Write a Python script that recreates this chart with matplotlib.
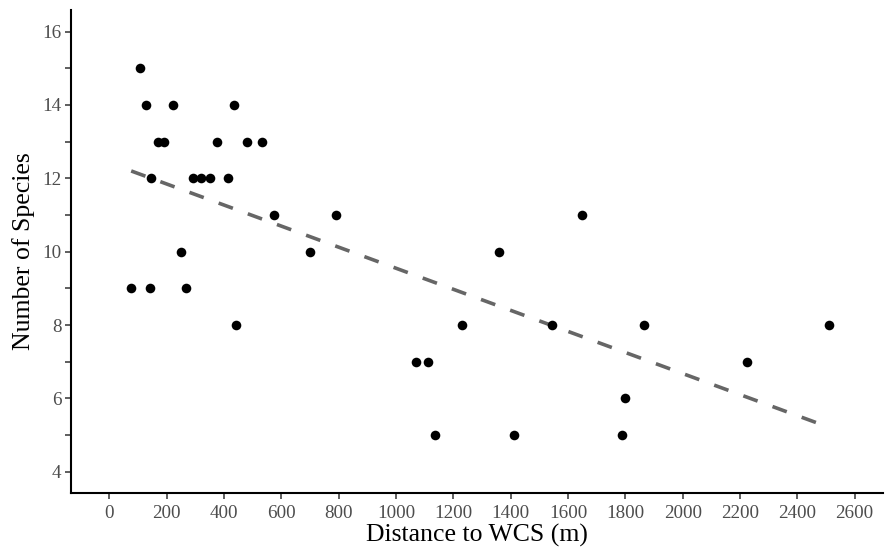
import numpy as np
import matplotlib
matplotlib.use("Agg")
import matplotlib.pyplot as plt

# distance to WCS (m) and number of species
distance = [76, 107, 127, 140, 144, 171, 191, 223, 250, 266, 293, 320, 351,
            375, 413, 436, 441, 480, 534, 575, 700, 791, 1070, 1113, 1136,
            1231, 1359, 1411, 1543, 1650, 1790, 1798, 1864, 2226, 2509]
species = [9, 15, 14, 9, 12, 13, 13, 14, 10, 9, 12, 12, 12,
           13, 12, 14, 8, 13, 13, 11, 10, 11, 7, 7, 5,
           8, 10, 5, 8, 11, 5, 6, 8, 7, 8]

x_ticks = np.arange(0, 2601, 200)
y_ticks = np.arange(4, 17, 1)
y_labels = [str(v) if v % 2 == 0 else "" for v in y_ticks]

plt.rcParams["font.family"] = ["Liberation Serif", "DejaVu Serif"]

fig = plt.figure(figsize=(8.86, 5.52), dpi=100)
ax = fig.add_axes([71 / 886, 59 / 552, 812 / 886, 483 / 552])

pts_x = np.array(distance)
pts_y = np.array(species)

ax.scatter(pts_x, pts_y, s=48, color="black", zorder=3, linewidths=0)

# linear fit, drawn dashed like geom_smooth(method = "lm", se = FALSE)
slope, intercept = np.polyfit(pts_x, pts_y, 1)
fit_x = np.array([pts_x.min(), pts_x.max()])
ax.plot(fit_x, intercept + slope * fit_x, color="#666666", lw=2.6,
        dashes=(4.2, 4.4), zorder=2)

ax.set_xlim(-134, 2699)
ax.set_ylim(3.42, 16.59)
ax.set_xticks(x_ticks)
ax.set_yticks(y_ticks)
ax.set_yticklabels(y_labels)

for side in ["top", "right"]:
    ax.spines[side].set_visible(False)
for side in ["left", "bottom"]:
    ax.spines[side].set_linewidth(1.5)
    ax.spines[side].set_color("black")

ax.tick_params(axis="both", length=4, width=1.1, color="#333333",
               labelcolor="#4D4D4D", labelsize=13.7)
ax.tick_params(axis="x", pad=5)
ax.tick_params(axis="y", pad=3)

ax.set_xlabel("Distance to WCS (m)", fontsize=18.5, color="black", labelpad=1)
ax.set_ylabel("Number of Species", fontsize=18.5, color="black", labelpad=5)

fig.savefig("out.png", dpi=100)
